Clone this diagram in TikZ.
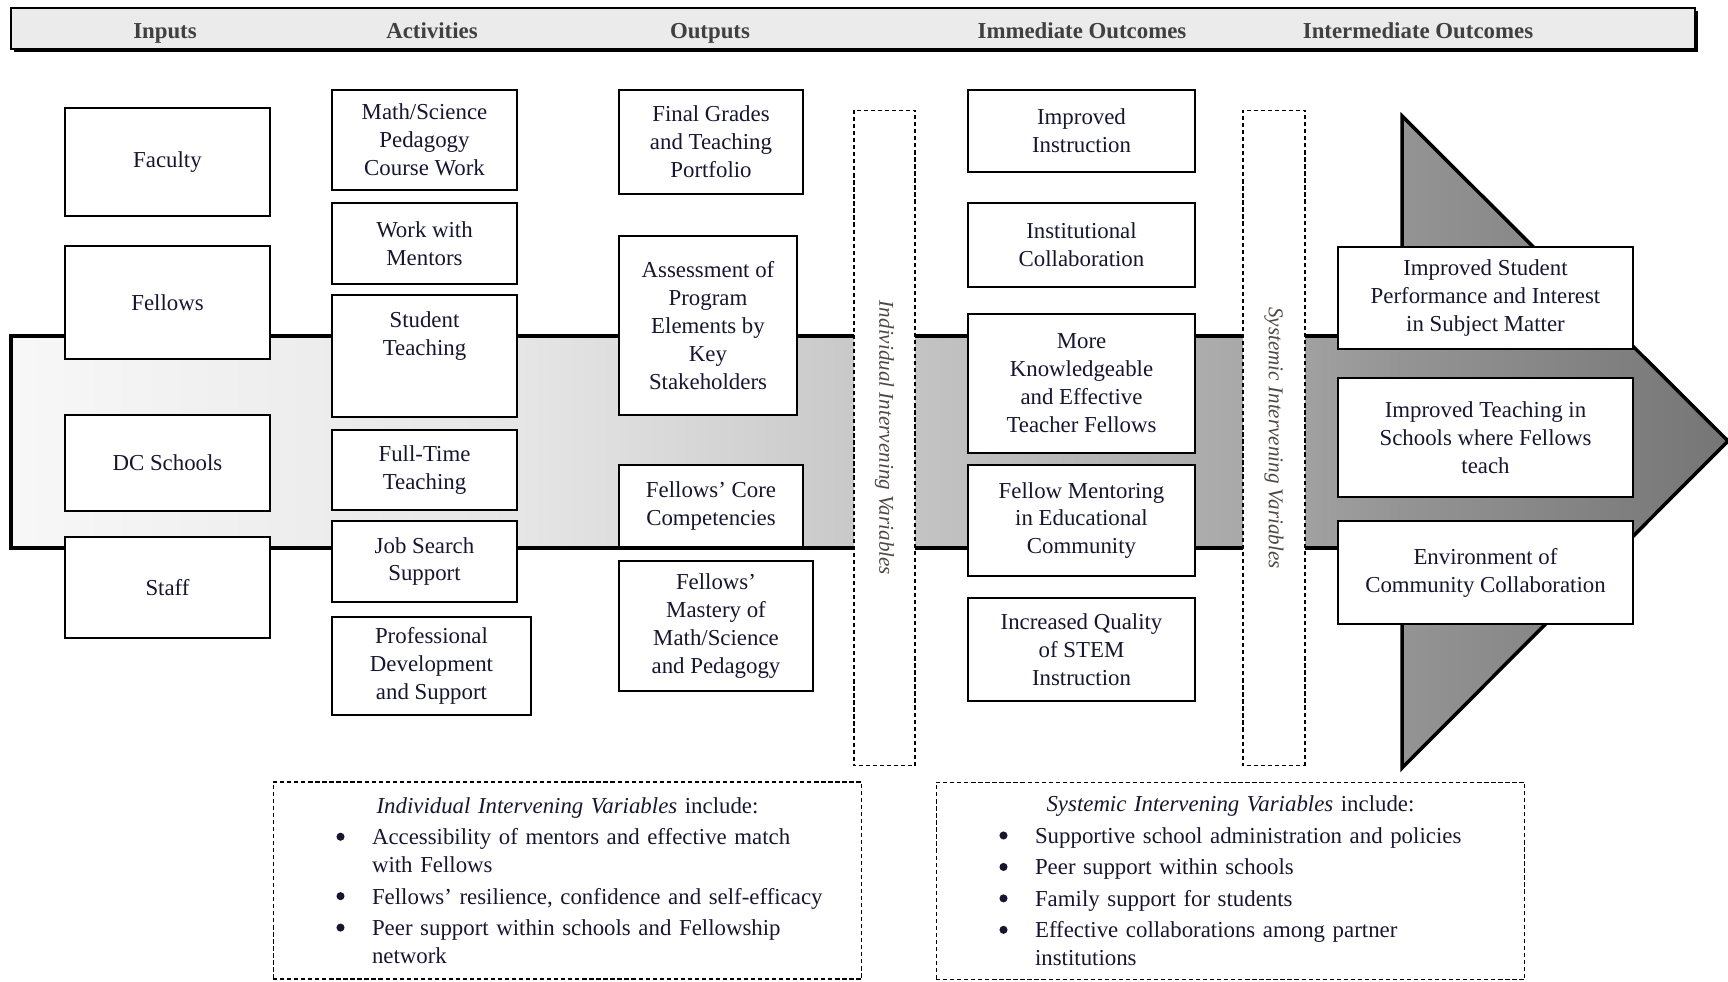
\documentclass[tikz,border=0pt]{standalone}
\usepackage{fontspec}
\setmainfont{Liberation Serif}
\usepackage{enumitem}
\usepackage{xcolor}
\usetikzlibrary{positioning}

\definecolor{ink}{RGB}{22,22,48}
\definecolor{vtext}{RGB}{80,70,70}
\pgfdeclarehorizontalshading{flow}{100bp}{color(0bp)=(black!3); color(25bp)=(black!3); color(40bp)=(black!10); color(51bp)=(black!23); color(61bp)=(black!34); color(65.5bp)=(black!42); color(75bp)=(black!54); color(100bp)=(black!54)}

\newcommand{\boxfont}{\fontsize{13}{15.9}\selectfont}
\newcommand{\bigdot}{\raisebox{2.2pt}{\pgfpicture\pgfpathcircle{\pgfpoint{0pt}{0pt}}{2.3pt}\pgfusepath{fill}\endpgfpicture}}

\tikzset{
  box/.style={draw, fill=white, line width=0.9pt, align=center, text=ink, font=\boxfont, inner sep=2pt},
  boxtext/.style={align=center, text=ink, font=\boxfont, inner sep=2pt},
  colhead/.style={font=\boxfont\bfseries, text=black!75, anchor=base},
  varstrip/.style={draw, dash pattern=on 2.4pt off 1.6pt, fill=white, line width=0.6pt, rotate=-90,
    font=\fontsize{12}{14}\selectfont\itshape, text=vtext, minimum width=13.12cm, minimum height=1.22cm},
  varlist/.style={draw, dash pattern=on 2.4pt off 1.6pt, line width=0.6pt, text width=11.38cm, inner xsep=0.2cm,
    minimum height=3.94cm, align=left, font=\boxfont, text=ink}
}

\begin{document}
\begin{tikzpicture}[x=0.02cm, y=-0.02cm]
	\useasboundingbox (0,0) rectangle (1728,982);

	% column heads
	\fill[black] (14,11) rectangle (1698,52);
	\node[draw, fill=black!8, line width=1.5pt, minimum width=33.68cm, minimum height=0.82cm] (bar) at (853,28.5) {};
	\node[colhead] (hin) at (165,38.5) {Inputs};
	\node[colhead] (hac) at (432,38.5) {Activities};
	\node[colhead] (hou) at (710,38.5) {Outputs};
	\node[colhead] (him) at (1082,38.5) {Immediate Outcomes};
	\node[colhead] (hit) at (1418,38.5) {Intermediate Outcomes};

	% big arrow
	\shade[shading=flow] (11,336) -- (1402,336) -- (1402,116) -- (1728,441) -- (1402,768) -- (1402,548) -- (11,548) -- cycle;
	\draw[line width=2pt, line join=miter] (11,336) -- (1402,336) -- (1402,116) -- (1728,441) -- (1402,768) -- (1402,548) -- (11,548) -- cycle;

	% intervening variable strips
	\node[varstrip] (ivar) at (884.5,438) {Individual Intervening Variables};
	\node[varstrip, minimum height=1.24cm] (svar) at (1274,438) {Systemic Intervening Variables};

	% inputs
	\node[box, minimum width=4.1cm, minimum height=2.16cm] (fac) at (167.5,162) {Faculty};
	\node[box, minimum width=4.1cm, minimum height=2.26cm] (fel) at (167.5,302.5) {Fellows};
	\node[box, minimum width=4.1cm, minimum height=1.92cm] (dcs) at (167.5,463) {DC Schools};
	\node[box, minimum width=4.1cm, minimum height=2.02cm] (stf) at (167.5,587.5) {Staff};

	% activities
	\node[box, minimum width=3.7cm, minimum height=2.0cm] (msc) at (424.5,140) {Math/Science\\Pedagogy\\Course Work};
	\node[box, minimum width=3.7cm, minimum height=1.62cm] (wmt) at (424.5,243.5) {Work with\\Mentors};
	\node[box, minimum width=3.7cm, minimum height=2.44cm] (stt) at (424.5,356) {};
	\node[boxtext, below=0.27cm of stt.north] (sttx) {Student\\Teaching};
	\node[box, minimum width=3.7cm, minimum height=1.6cm] (ftt) at (424.5,470) {Full-Time\\Teaching};
	\node[box, minimum width=3.7cm, minimum height=1.62cm] (jss) at (424.5,561.5) {Job Search\\Support};
	\node[box, minimum width=3.98cm, minimum height=1.96cm] (pds) at (431.5,666) {Professional\\Development\\and Support};

	% outputs
	\node[box, minimum width=3.68cm, minimum height=2.08cm] (fgr) at (711,142) {Final Grades\\and Teaching\\Portfolio};
	\node[box, minimum width=3.56cm, minimum height=3.58cm] (ass) at (708,325.5) {Assessment of\\Program\\Elements by\\Key\\Stakeholders};
	\node[box, minimum width=3.68cm, minimum height=1.64cm] (fcc) at (711,506) {Fellows’ Core\\Competencies};
	\node[box, minimum width=3.88cm, minimum height=2.6cm] (fmm) at (716,626) {Fellows’\\Mastery of\\Math/Science\\and Pedagogy};

	% immediate outcomes
	\node[box, minimum width=4.54cm, minimum height=1.64cm] (iin) at (1081.5,131) {Improved\\Instruction};
	\node[box, minimum width=4.54cm, minimum height=1.68cm] (ico) at (1081.5,245) {Institutional\\Collaboration};
	\node[box, minimum width=4.54cm, minimum height=2.78cm] (mkn) at (1081.5,383.5) {More\\Knowledgeable\\and Effective\\Teacher Fellows};
	\node[box, minimum width=4.54cm, minimum height=2.22cm] (fmn) at (1081.5,520.5) {Fellow Mentoring\\in Educational\\Community};
	\node[box, minimum width=4.54cm, minimum height=2.06cm] (iqs) at (1081.5,649.5) {Increased Quality\\of STEM\\Instruction};

	% intermediate outcomes
	\node[box, minimum width=5.9cm, minimum height=2.04cm] (isp) at (1485.5,298) {Improved Student\\Performance and Interest\\in Subject Matter};
	\node[box, minimum width=5.9cm, minimum height=2.38cm] (itc) at (1485.5,437.5) {Improved Teaching in\\Schools where Fellows\\teach};
	\node[box, minimum width=5.9cm, minimum height=2.06cm] (ecc) at (1485.5,572.5) {Environment of\\Community Collaboration};

	% variable lists
	\node[varlist] (ivl) at (567.5,880.5) {{\centering\textit{Individual Intervening Variables} include:\par}
		\begin{itemize}[label=\bigdot, leftmargin=1.78cm, labelsep=0.55cm, itemsep=2pt, topsep=2pt, parsep=0pt, partopsep=0pt]
			\item Accessibility of mentors and effective match\\with Fellows
			\item Fellows’ resilience, confidence and self-efficacy
			\item Peer support within schools and Fellowship\\network
		\end{itemize}};
	\node[varlist] (svl) at (1230.5,881) {{\centering\textit{Systemic Intervening Variables} include:\par}
		\begin{itemize}[label=\bigdot, leftmargin=1.78cm, labelsep=0.55cm, itemsep=2pt, topsep=2pt, parsep=0pt, partopsep=0pt]
			\item Supportive school administration and policies
			\item Peer support within schools
			\item Family support for students
			\item Effective collaborations among partner\\institutions
		\end{itemize}};
\end{tikzpicture}
\end{document}
